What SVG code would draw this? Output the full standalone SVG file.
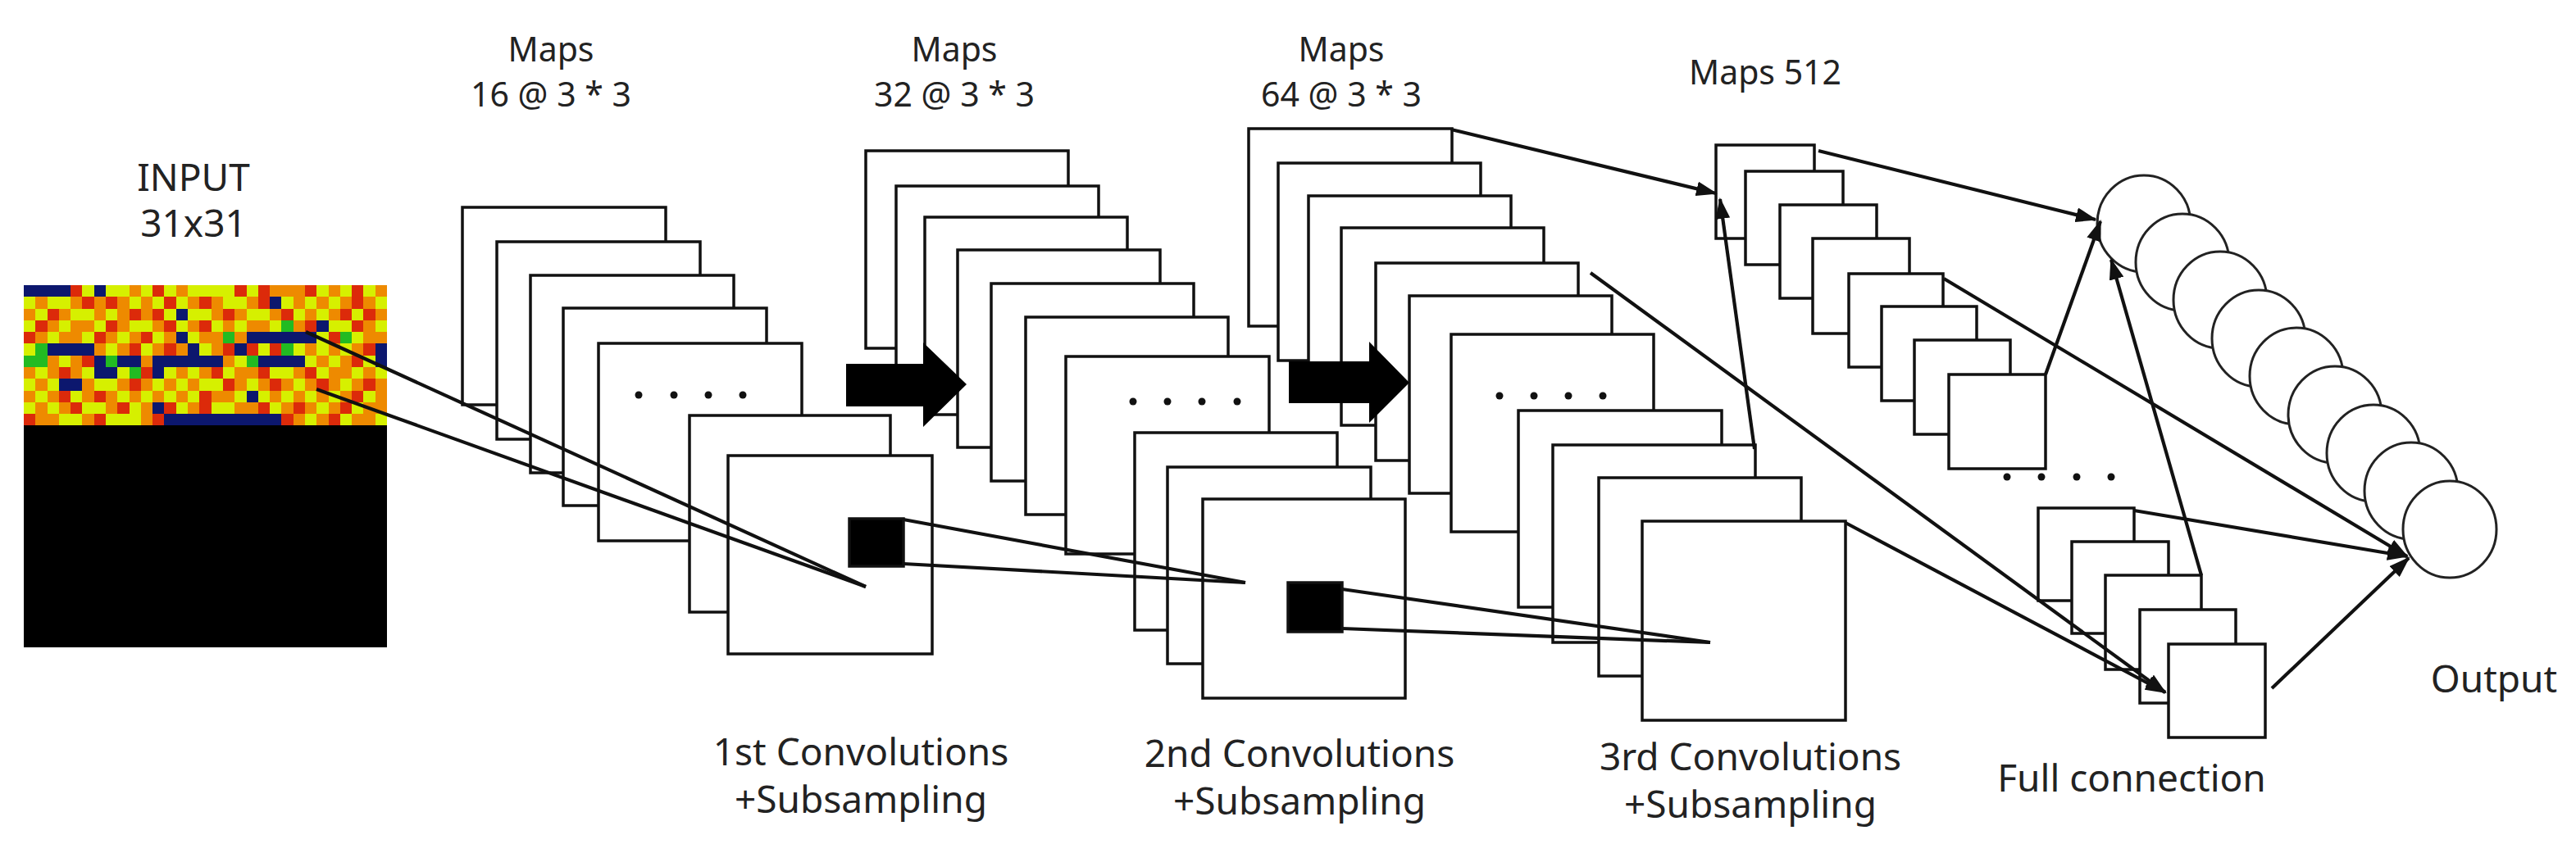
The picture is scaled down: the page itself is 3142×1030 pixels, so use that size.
<svg xmlns="http://www.w3.org/2000/svg" width="3142" height="1030" viewBox="0 0 3142 1030">
<style>
.t{font-family:"Noto Sans","DejaVu Sans",sans-serif;font-size:46px;fill:#222;text-anchor:middle}
.s{font-size:41px}
.m rect{fill:#fff;stroke:#111;stroke-width:3.5}
.c line{stroke:#111;stroke-width:4.2;fill:none}
.a{marker-end:url(#ah)}
</style>
<defs>
<marker id="ah" markerUnits="userSpaceOnUse" markerWidth="26" markerHeight="18" refX="24" refY="9" orient="auto" viewBox="0 0 26 18"><path d="M0 0L26 9L0 18z" fill="#111"/></marker>
</defs>
<rect width="3142" height="1030" fill="#fff"/>
<g id="input">
<text class="t" x="236" y="233">INPUT</text>
<text class="t" x="236" y="289">31x31</text>
<rect x="29" y="348" width="443" height="442" fill="#000"/>
<g transform="translate(29,348) scale(14.29)" shape-rendering="crispEdges">
<rect width="31" height="12" fill="#ee8a00"/>
<path fill="#d6f000" d="M5 0h1v1h-1zM7 0h2v1h-2zM10 0h1v1h-1zM12 0h1v1h-1zM14 0h4v1h-4zM19 0h1v1h-1zM25 0h1v1h-1zM27 0h1v1h-1zM29 0h1v1h-1zM0 1h1v1h-1zM2 1h2v1h-2zM9 1h1v1h-1zM11 1h1v1h-1zM13 1h1v1h-1zM17 1h2v1h-2zM22 1h1v1h-1zM24 1h1v1h-1zM26 1h1v1h-1zM30 1h1v1h-1zM1 2h1v1h-1zM4 2h2v1h-2zM7 2h1v1h-1zM12 2h1v1h-1zM14 2h2v1h-2zM19 2h2v1h-2zM23 2h1v1h-1zM25 2h1v1h-1zM28 2h1v1h-1zM0 3h1v1h-1zM3 3h1v1h-1zM6 3h1v1h-1zM9 3h2v1h-2zM13 3h1v1h-1zM16 3h1v1h-1zM18 3h1v1h-1zM21 3h1v1h-1zM26 3h2v1h-2zM30 3h1v1h-1zM2 4h1v1h-1zM5 4h1v1h-1zM8 4h1v1h-1zM11 4h1v1h-1zM14 4h1v1h-1zM25 4h1v1h-1zM28 4h1v1h-1zM0 5h1v1h-1zM7 5h1v1h-1zM10 5h1v1h-1zM15 5h1v1h-1zM20 5h1v1h-1zM23 5h1v1h-1zM25 5h1v1h-1zM27 5h1v1h-1zM3 6h1v1h-1zM18 6h1v1h-1zM24 6h1v1h-1zM26 6h1v1h-1zM29 6h1v1h-1zM1 7h1v1h-1zM5 7h1v1h-1zM8 7h1v1h-1zM12 7h1v1h-1zM14 7h1v1h-1zM17 7h1v1h-1zM21 7h2v1h-2zM25 7h1v1h-1zM28 7h1v1h-1zM30 7h1v1h-1zM0 8h1v1h-1zM2 8h1v1h-1zM6 8h2v1h-2zM11 8h1v1h-1zM13 8h1v1h-1zM15 8h2v1h-2zM19 8h1v1h-1zM23 8h1v1h-1zM27 8h1v1h-1zM1 9h1v1h-1zM4 9h1v1h-1zM8 9h1v1h-1zM10 9h1v1h-1zM12 9h1v1h-1zM14 9h1v1h-1zM18 9h1v1h-1zM20 9h1v1h-1zM22 9h1v1h-1zM24 9h1v1h-1zM26 9h1v1h-1zM29 9h1v1h-1zM0 10h1v1h-1zM2 10h1v1h-1zM5 10h2v1h-2zM9 10h1v1h-1zM13 10h1v1h-1zM16 10h2v1h-2zM21 10h1v1h-1zM25 10h1v1h-1zM28 10h1v1h-1zM3 11h2v1h-2zM7 11h3v1h-3zM24 11h1v1h-1zM27 11h1v1h-1zM30 11h1v1h-1z"/>
<path fill="#dc2a0a" d="M4 0h1v1h-1zM11 0h1v1h-1zM18 0h1v1h-1zM20 0h1v1h-1zM24 0h1v1h-1zM28 0h1v1h-1zM5 1h1v1h-1zM7 1h1v1h-1zM12 1h1v1h-1zM15 1h1v1h-1zM20 1h1v1h-1zM28 1h1v1h-1zM2 2h1v1h-1zM9 2h1v1h-1zM11 2h1v1h-1zM17 2h1v1h-1zM22 2h1v1h-1zM27 2h1v1h-1zM29 2h1v1h-1zM1 3h1v1h-1zM7 3h1v1h-1zM12 3h1v1h-1zM15 3h1v1h-1zM24 3h1v1h-1zM28 3h1v1h-1zM0 4h1v1h-1zM6 4h1v1h-1zM10 4h1v1h-1zM26 4h1v1h-1zM9 5h1v1h-1zM12 5h1v1h-1zM17 5h1v1h-1zM19 5h1v1h-1zM21 5h1v1h-1zM29 5h1v1h-1zM1 6h1v1h-1zM5 6h1v1h-1zM19 6h1v1h-1zM28 6h1v1h-1zM3 7h1v1h-1zM10 7h1v1h-1zM16 7h1v1h-1zM20 7h1v1h-1zM24 7h1v1h-1zM4 8h1v1h-1zM9 8h1v1h-1zM17 8h1v1h-1zM21 8h1v1h-1zM25 8h1v1h-1zM29 8h1v1h-1zM3 9h1v1h-1zM6 9h1v1h-1zM15 9h1v1h-1zM19 9h1v1h-1zM28 9h1v1h-1zM4 10h1v1h-1zM8 10h1v1h-1zM12 10h1v1h-1zM15 10h1v1h-1zM20 10h1v1h-1zM23 10h1v1h-1zM27 10h1v1h-1zM0 11h1v1h-1zM6 11h1v1h-1zM11 11h1v1h-1zM22 11h1v1h-1zM26 11h1v1h-1z"/>
<path fill="#22bb22" d="M17 4h1v1h-1zM27 4h1v1h-1zM1 5h1v1h-1zM22 5h1v1h-1zM0 6h2v1h-2zM7 6h1v1h-1zM19 6h1v1h-1zM9 7h1v1h-1zM22 3h1v1h-1z"/>
<path fill="#0c176e" d="M0 0h4v1h-4zM6 0h1v1h-1zM21 1h1v1h-1zM13 2h1v1h-1zM25 3h1v1h-1zM13 4h1v1h-1zM19 4h6v1h-6zM2 5h4v1h-4zM14 5h1v1h-1zM18 5h1v1h-1zM30 5h1v1h-1zM6 6h1v1h-1zM8 6h2v1h-2zM11 6h6v1h-6zM20 6h4v1h-4zM30 6h1v1h-1zM6 7h2v1h-2zM11 7h1v1h-1zM3 8h2v1h-2zM19 9h1v1h-1zM11 10h1v1h-1zM12 11h10v1h-10z"/>
</g>
</g>
<g id="layer1" class="m">
<text class="t s" x="672" y="75">Maps</text>
<text class="t s" x="672" y="130">16 @ 3 * 3</text>
<rect x="564" y="253" width="248" height="241"/>
<rect x="606" y="295" width="248" height="241"/>
<rect x="647" y="336" width="248" height="241"/>
<rect x="687" y="376" width="248" height="241"/>
<rect x="730" y="419" width="248" height="241"/>
<g fill="#111"><circle cx="779" cy="482" r="4.5"/><circle cx="822" cy="482" r="4.5"/><circle cx="864" cy="482" r="4.5"/><circle cx="906" cy="482" r="4.5"/></g>
<rect x="841" y="507" width="245" height="240"/>
<rect x="888" y="556" width="249" height="242"/>
<rect x="1036" y="633" width="66" height="58" style="fill:#000"/>
<text class="t" x="1050" y="934">1st Convolutions</text>
<text class="t" x="1050" y="992">+Subsampling</text>
</g>
<g id="layer2" class="m">
<text class="t s" x="1164" y="75">Maps</text>
<text class="t s" x="1164" y="130">32 @ 3 * 3</text>
<rect x="1056" y="184" width="247" height="241"/>
<rect x="1093" y="227" width="247" height="241"/>
<rect x="1128" y="265" width="247" height="241"/>
<rect x="1168" y="305" width="247" height="241"/>
<rect x="1209" y="346" width="247" height="241"/>
<rect x="1251" y="387" width="247" height="241"/>
<rect x="1300" y="435" width="248" height="241"/>
<g fill="#111"><circle cx="1382" cy="490" r="4.5"/><circle cx="1424" cy="490" r="4.5"/><circle cx="1466" cy="490" r="4.5"/><circle cx="1509" cy="490" r="4.5"/></g>
<rect x="1384" y="528" width="247" height="241"/>
<rect x="1424" y="570" width="248" height="240"/>
<rect x="1467" y="609" width="247" height="243"/>
<rect x="1571" y="711" width="66" height="60" style="fill:#000"/>
<text class="t" x="1585" y="936">2nd Convolutions</text>
<text class="t" x="1585" y="994">+Subsampling</text>
</g>
<g id="layer3" class="m">
<text class="t s" x="1636" y="75">Maps</text>
<text class="t s" x="1636" y="130">64 @ 3 * 3</text>
<rect x="1523" y="157" width="248" height="241"/>
<rect x="1559" y="199" width="247" height="241"/>
<rect x="1596" y="239" width="247" height="241"/>
<rect x="1636" y="278" width="247" height="241"/>
<rect x="1678" y="321" width="247" height="241"/>
<rect x="1719" y="361" width="247" height="241"/>
<rect x="1770" y="408" width="247" height="241"/>
<g fill="#111"><circle cx="1829" cy="483" r="4.5"/><circle cx="1871" cy="483" r="4.5"/><circle cx="1913" cy="483" r="4.5"/><circle cx="1955" cy="483" r="4.5"/></g>
<rect x="1852" y="501" width="248" height="240"/>
<rect x="1894" y="543" width="247" height="241"/>
<rect x="1950" y="583" width="247" height="242"/>
<rect x="2003" y="636" width="248" height="243"/>
<text class="t" x="2135" y="940">3rd Convolutions</text>
<text class="t" x="2135" y="998">+Subsampling</text>
</g>
<g id="arrows">
<polygon points="1032,444 1126,444 1126,418 1179,469 1126,521 1126,496 1032,496" fill="#000"/>
<polygon points="1572,441 1670,441 1670,417 1719,467 1670,516 1670,492 1572,492" fill="#000"/>
</g>
<g id="layer4" class="m">
<text class="t s" x="2153" y="103">Maps 512</text>
<rect x="2093" y="177" width="120" height="114"/>
<rect x="2129" y="209" width="119" height="114"/>
<rect x="2171" y="250" width="118" height="114"/>
<rect x="2211" y="291" width="118" height="116"/>
<rect x="2255" y="334" width="115" height="114"/>
<rect x="2295" y="374" width="116" height="115"/>
<rect x="2335" y="415" width="117" height="115"/>
<rect x="2377" y="457" width="118" height="115"/>
<g fill="#111"><circle cx="2448" cy="582" r="4.5"/><circle cx="2490" cy="582" r="4.5"/><circle cx="2533" cy="582" r="4.5"/><circle cx="2575" cy="582" r="4.5"/></g>
<rect x="2486" y="620" width="117" height="113"/>
<rect x="2527" y="661" width="118" height="112"/>
<rect x="2568" y="702" width="117" height="115"/>
<rect x="2610" y="744" width="117" height="114"/>
<rect x="2645" y="786" width="118" height="114"/>
<text class="t" x="2600" y="966">Full connection</text>
</g>
<g id="output" fill="#fff" stroke="#222" stroke-width="3">
<ellipse cx="2615" cy="273" rx="57" ry="59"/>
<ellipse cx="2662" cy="320" rx="57" ry="59"/>
<ellipse cx="2708" cy="366" rx="57" ry="59"/>
<ellipse cx="2755" cy="413" rx="57" ry="59"/>
<ellipse cx="2801" cy="459" rx="57" ry="59"/>
<ellipse cx="2848" cy="506" rx="57" ry="59"/>
<ellipse cx="2895" cy="553" rx="57" ry="59"/>
<ellipse cx="2941" cy="599" rx="57" ry="59"/>
<ellipse cx="2988" cy="646" rx="57" ry="59"/>
<text class="t" x="3042" y="845" stroke="none" style="fill:#222">Output</text>
</g>
<g id="connectors" class="c">
<line x1="373" y1="405" x2="1056" y2="716"/>
<line x1="386" y1="475" x2="1056" y2="716"/>
<line x1="1102" y1="634" x2="1519" y2="711"/>
<line x1="1102" y1="688" x2="1519" y2="711"/>
<line x1="1637" y1="719" x2="2086" y2="784"/>
<line x1="1637" y1="767" x2="2086" y2="784"/>
<line class="a" x1="1770" y1="158" x2="2093" y2="236"/>
<line class="a" x1="1940" y1="333" x2="2641" y2="845"/>
<line class="a" x1="2251" y1="638" x2="2641" y2="845"/>
<line class="a" x1="2140" y1="548" x2="2098" y2="243"/>
<line class="a" x1="2218" y1="184" x2="2556" y2="268"/>
<line class="a" x1="2495" y1="457" x2="2562" y2="270"/>
<line class="a" x1="2371" y1="340" x2="2936" y2="679"/>
<line class="a" x1="2603" y1="623" x2="2936" y2="679"/>
<line class="a" x1="2771" y1="840" x2="2938" y2="681"/>
<line class="a" x1="2685" y1="702" x2="2575" y2="317"/>
</g>
</svg>
